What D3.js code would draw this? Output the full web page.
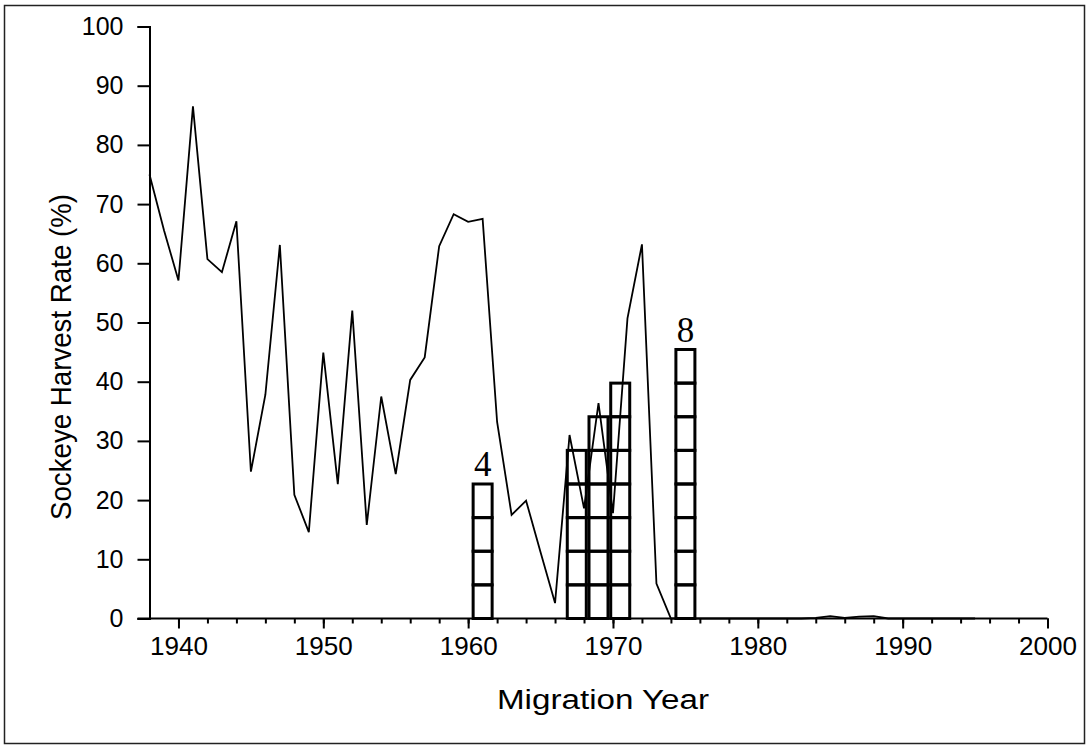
<!DOCTYPE html>
<html>
<head>
<meta charset="utf-8">
<script src="https://cdn.jsdelivr.net/npm/d3@7"></script>
<style>
  body { margin: 0; background: #fff; }
  text { font-family: "Liberation Sans", Arial, sans-serif; fill: #000; }
</style>
</head>
<body>
<div id="viz"></div>
<script>
// harvest rate, one value per migration year
var years = d3.range(1938, 1996);
var harvest = [
  75.0, 65.6, 57.1, 86.5, 60.7, 58.5, 67.1, 24.8, 37.8, 63.1,
  20.9, 14.6, 44.9, 22.7, 52.0, 15.8, 37.5, 24.4, 40.3, 44.1,
  62.9, 68.3, 67.0, 67.5, 33.2, 17.5, 19.9, 11.2, 2.6, 31.0,
  18.6, 36.4, 17.8, 50.7, 63.2, 5.9, 0, 0, 0, 0,
  0, 0, 0, 0, 0, 0, 0.1, 0.4, 0.1, 0.3,
  0.4, 0, 0, 0, 0, 0, 0, 0
];

// stacked box columns
var barYears = [1961, 1967.5, 1969, 1970.5, 1975];
var barCounts = [4, 5, 6, 7, 8];
var barLabels = ["4", "", "", "", "8"];
var boxValue = 5.68;   // one box in % units

var yTicks = d3.range(0, 101, 10);
var xMajor = d3.range(1940, 2001, 10);
var xMinor = d3.range(1940, 2001, 2);

var width = 1088, height = 747;

var svg = d3.select("#viz")
  .append("svg")
    .attr("width", width)
    .attr("height", height);

svg.append("rect")
    .attr("x", 4.5).attr("y", 5.5)
    .attr("width", 1080).attr("height", 738)
    .style("fill", "none")
    .style("stroke", "#222")
    .style("stroke-width", "1.5px");

var x = d3.scaleLinear().domain([1938, 2000]).range([149.5, 1047.5]);
var y = d3.scaleLinear().domain([0, 100]).range([618.5, 26.5]);

// y axis
var gy = svg.append("g")
    .attr("transform", "translate(149.5,0)")
    .call(d3.axisLeft(y).tickValues(yTicks).tickSize(12).tickPadding(14));
gy.selectAll("text").style("font-size", "25px");

// x axis, minor then major ticks
var gxm = svg.append("g")
    .attr("transform", "translate(0,618.5)")
    .call(d3.axisBottom(x).tickValues(xMinor).tickSize(5).tickFormat(""));
var gx = svg.append("g")
    .attr("transform", "translate(0,618.5)")
    .call(d3.axisBottom(x).tickValues(xMajor).tickSize(10).tickPadding(9).tickFormat(d3.format("d")));
gx.selectAll("text").style("font-size", "25px").attr("textLength", 58).attr("lengthAdjust", "spacingAndGlyphs");

[gy, gx, gxm].forEach(function(g) {
  g.selectAll("path").style("stroke", "#000").style("stroke-width", "2px");
  g.selectAll("line").style("stroke", "#000").style("stroke-width", "2px");
  g.attr("font-family", null).attr("font-size", null);
});
gx.select("path.domain").remove();
gxm.select("path.domain").attr("d", "M137.5,0H1047.5");

// box columns
var boxes = svg.append("g");
barYears.forEach(function(yr, i) {
  var x0 = x(yr) - 9.5, w = 19;
  for (var k = 0; k < barCounts[i]; k++) {
    boxes.append("rect")
      .attr("x", x0)
      .attr("y", y((k + 1) * boxValue))
      .attr("width", w)
      .attr("height", y(k * boxValue) - y((k + 1) * boxValue))
      .style("fill", "none")
      .style("stroke", "#000")
      .style("stroke-width", "3px");
  }
  if (barLabels[i]) {
    svg.append("text")
      .attr("x", x(yr))
      .attr("y", y(barCounts[i] * boxValue) - 7.5)
      .attr("text-anchor", "middle")
      .style("font-family", "'Liberation Serif', 'Times New Roman', serif")
      .style("font-size", "35px")
      .text(barLabels[i]);
  }
});

var line = d3.line()
    .x(function(d, i) { return x(years[i]); })
    .y(function(d) { return y(d); });

svg.append("path")
    .datum(harvest)
    .attr("d", line)
    .style("fill", "none")
    .style("stroke", "#000")
    .style("stroke-width", "1.8px")
    .style("stroke-linejoin", "miter");

svg.append("text")
    .attr("x", 603)
    .attr("y", 709)
    .attr("text-anchor", "middle")
    .attr("textLength", 212)
    .attr("lengthAdjust", "spacingAndGlyphs")
    .style("font-size", "27px")
    .text("Migration Year");

svg.append("text")
    .attr("transform", "translate(71,357) rotate(-90)")
    .attr("text-anchor", "middle")
    .attr("textLength", 326)
    .attr("lengthAdjust", "spacingAndGlyphs")
    .style("font-size", "30px")
    .text("Sockeye Harvest Rate (%)");
</script>
</body>
</html>
